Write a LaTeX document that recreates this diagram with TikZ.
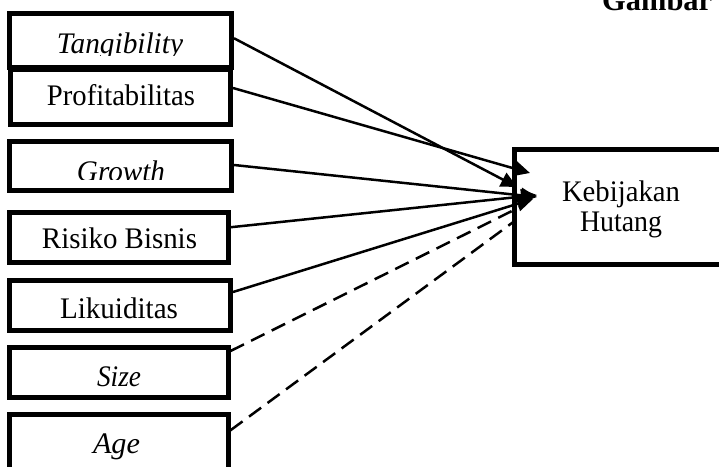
\documentclass[tikz,border=0pt]{standalone}
\usepackage{fontspec}
\setmainfont{Liberation Serif}
\usetikzlibrary{arrows.meta}
\newcommand\lab[2]{\resizebox{#1pt}{1.04\height}{#2}}
\begin{document}
\begin{tikzpicture}[x=1pt,y=-1pt,
  box/.style={draw,line width=5pt,rectangle,inner sep=0pt},
  txt/.style={inner sep=0pt,anchor=base,font=\fontsize{28.7}{34}\selectfont},
  conn/.style={line width=2.5pt,-{Triangle[length=16pt,width=15pt]}},
  dconn/.style={line width=2.5pt,dash pattern=on 15pt off 8pt}]
\useasboundingbox (0,0) rectangle (719,466);
\clip (0,0) rectangle (719,466);
% boxes
\node[box,minimum width=222pt,minimum height=53.5pt] (t1) at (120.5,40.25) {};
\node[box,minimum width=220pt,minimum height=55pt] (t2) at (120.5,97) {};
\node[box,minimum width=222pt,minimum height=49pt] (t3) at (120.5,166) {};
\node[box,minimum width=218.5pt,minimum height=50.5pt] (t4) at (118.75,237.25) {};
\node[box,minimum width=221pt,minimum height=50pt] (t5) at (120,305.5) {};
\node[box,minimum width=218.5pt,minimum height=50pt] (t6) at (118.75,372.5) {};
\node[box,minimum width=218.5pt,minimum height=75.5pt] (t7) at (118.75,452.25) {};
\node[box,minimum width=225.5pt,minimum height=115pt] (kh) at (627.25,207) {};
% labels
\begin{scope}
\clip (0,0) rectangle (719,55.5);
\node[txt] (l1) at (120,53) {\lab{126}{\itshape Tangibility}};
\end{scope}
\node[txt] (l2) at (121,105) {\lab{148}{Profitabilitas}};
\begin{scope}
\clip (0,100) rectangle (719,179.5);
\node[txt] (l3) at (121,181) {\lab{88}{\itshape Growth}};
\end{scope}
\node[txt] (l4) at (119.5,248) {\lab{155}{Risiko Bisnis}};
\node[txt] (l5) at (119,318) {\lab{118}{Likuiditas}};
\node[txt] (l6) at (119,386) {\lab{44}{\itshape Size}};
\node[txt] (l7) at (116.5,453) {\lab{47}{\itshape Age}};
\node[txt] (l8) at (621,201) {\lab{118}{Kebijakan}};
\node[txt] (l9) at (621,231) {\lab{82}{Hutang}};
\node[txt,anchor=base west] (g) at (602,10) {\lab{110}{\bfseries Gambar}};
% connector ends
\coordinate (e1) at (517,187);
\coordinate (e2) at (530,173);
\coordinate (e3) at (537,197);
\coordinate (e4) at (537,195);
\coordinate (e5) at (533,199);
\coordinate (e6) at (522,206);
\coordinate (e7) at (516,220);
% connectors
\draw[conn] ([yshift=2pt]t1.east) -- (e1);
\draw[conn] ([yshift=9pt]t2.east) -- (e2);
\draw[conn] ([yshift=1pt]t3.east) -- (e3);
\draw[conn] ([yshift=10pt]t4.east) -- (e4);
\draw[conn] ([yshift=13.5pt]t5.east) -- (e5);
\draw[dconn] ([yshift=21.5pt]t6.east) -- (e6);
\draw[dconn] ([yshift=22pt]t7.east) -- (e7);
\end{tikzpicture}
\end{document}
